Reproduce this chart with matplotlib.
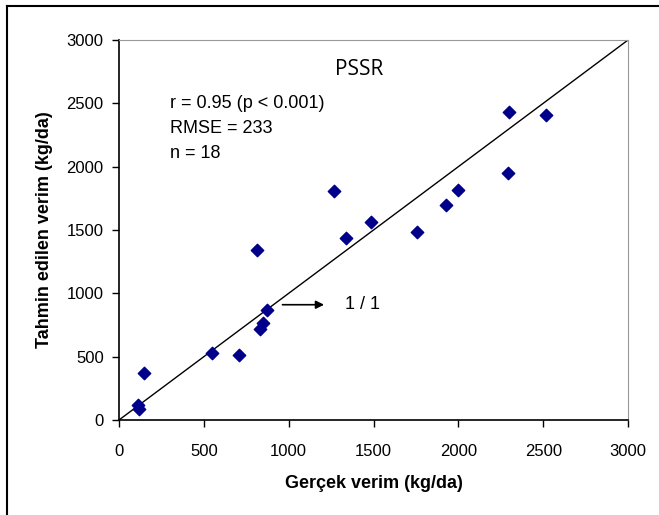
import matplotlib.pyplot as plt
from matplotlib.lines import Line2D

# observed vs predicted yield (kg/da)
gercek = [114, 118, 146, 550, 707, 816, 833, 846, 875, 1267, 1336, 1483,
          1758, 1929, 1996, 2291, 2301, 2517]
tahmin = [121, 89, 368, 529, 513, 1341, 718, 765, 865, 1804, 1433, 1567,
          1488, 1696, 1814, 1948, 2435, 2409]
ticks = [0, 500, 1000, 1500, 2000, 2500, 3000]
stats_lines = ['r = 0.95 (p < 0.001)', 'RMSE = 233', 'n = 18']

plt.rcParams['font.family'] = ['Liberation Sans', 'DejaVu Sans']

fig = plt.figure(figsize=(6.59, 5.15), dpi=100)
ax = fig.add_axes([0.1806, 0.1845, 0.7724, 0.7378])

# 1:1 line
ax.plot([0, 3000], [0, 3000], color='black', lw=1)
ax.scatter(gercek, tahmin, marker='D', s=40, color='#00008B', zorder=3)

ax.set_xlim(0, 3000)
ax.set_ylim(0, 3000)
ax.set_xticks(ticks)
ax.set_yticks(ticks)
ax.tick_params(direction='out', length=5, width=1, labelsize=12)
ax.tick_params(axis='x', pad=12)
ax.tick_params(axis='y', pad=6)
ax.spines['left'].set_linewidth(1.2)
ax.spines['bottom'].set_linewidth(1.2)
ax.spines['top'].set_color('#999999')
ax.spines['right'].set_color('#999999')

ax.set_xlabel('Gerçek verim (kg/da)', fontsize=13, fontweight='bold', labelpad=12)
ax.set_ylabel('Tahmin edilen verim (kg/da)', fontsize=13, fontweight='bold', labelpad=10)

ax.text(1416, 2770, 'PSSR', fontsize=15, ha='center', va='center',
        family=['Open Sans', 'DejaVu Sans'])
for i, s in enumerate(stats_lines):
    ax.text(300, 2495 - i * 197, s, fontsize=13, ha='left', va='center')

ax.annotate('', xy=(1225, 910), xytext=(947, 910),
            arrowprops=dict(arrowstyle='-|>', color='black', lw=1.2, mutation_scale=12))
ax.text(1330, 910, '1 / 1', fontsize=13, ha='left', va='center')

# outer frame (left and top edges visible)
fig.add_artist(Line2D([7 / 659, 7 / 659], [0, 1 - 6 / 515], color='black', lw=1.5,
                      transform=fig.transFigure))
fig.add_artist(Line2D([7 / 659, 1], [1 - 6 / 515, 1 - 6 / 515], color='black', lw=1.5,
                      transform=fig.transFigure))

fig.savefig('out.png', dpi=100)
